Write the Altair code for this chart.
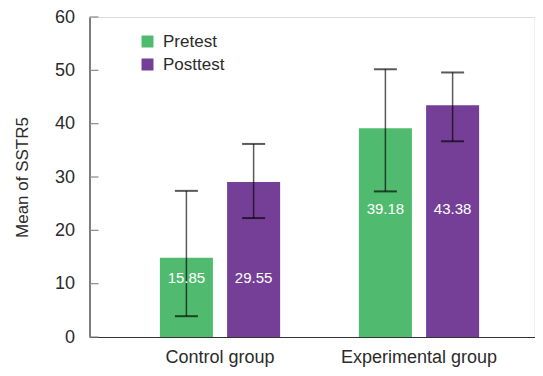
import altair as alt
import pandas as pd

groups = ["Control group", "Control group", "Experimental group", "Experimental group"]
tests = ["Pretest", "Posttest", "Pretest", "Posttest"]
bar_means = [14.86, 29.07, 39.16, 43.46]
value_labels = ["15.85", "29.55", "39.18", "43.38"]
err_low = [3.9, 22.3, 27.3, 36.7]
err_high = [27.4, 36.2, 50.2, 49.6]
label_y = [11.1, 11.1, 24.0, 24.0]
y_ticks = [0, 10, 20, 30, 40, 50, 60]

df = pd.DataFrame({
    "group": groups, "test": tests, "mean": bar_means, "label": value_labels,
    "low": err_low, "high": err_high, "label_y": label_y,
})
ticks_df = pd.DataFrame({"v": y_ticks})

FONT = "Liberation Sans"
GREEN = "#50BB6E"
PURPLE = "#753F97"
W, H = 445, 320

xscale = alt.Scale(paddingInner=0, paddingOuter=0.1181, align=0.6596)
xoff_scale = alt.Scale(domain=["Pretest", "Posttest"], paddingInner=0.211, paddingOuter=0.586)
yscale = alt.Scale(domain=[0, 60], nice=False)
gsort = ["Control group", "Experimental group"]

x_enc = alt.X("group:N", scale=xscale, sort=gsort,
              axis=alt.Axis(title=None, labelAngle=0, ticks=False, labelPadding=11,
                            labelFontSize=18, labelFont=FONT, labelColor="#2b2b2b",
                            domainColor="#333333", domainWidth=1.2))
xo_enc = alt.XOffset("test:N", scale=xoff_scale, sort=["Pretest", "Posttest"])

bars = alt.Chart(df).mark_bar().encode(
    x=x_enc,
    xOffset=xo_enc,
    y=alt.Y("mean:Q", scale=yscale,
            axis=alt.Axis(title="Mean of SSTR5", values=y_ticks, grid=False, ticks=False,
                          labelPadding=15, labelFontSize=18, labelFont=FONT,
                          labelColor="#2b2b2b", domainColor="#333333", domainWidth=1.2,
                          titleFontSize=17, titleFont=FONT, titleFontWeight="normal",
                          titleColor="#2b2b2b", titleX=-67, titleY=H / 2,
                          titleAngle=-90, titleAlign="center", titleBaseline="middle")),
    color=alt.Color("test:N", scale=alt.Scale(domain=["Pretest", "Posttest"], range=[GREEN, PURPLE]),
                    legend=alt.Legend(title=None, orient="none", legendX=49.5, legendY=16,
                                      symbolType="square", symbolSize=144, symbolStrokeWidth=0,
                                      symbolOpacity=1, labelFontSize=17, labelFont=FONT,
                                      labelColor="#2b2b2b", labelOffset=7, rowPadding=5)),
)

rules = alt.Chart(df).mark_rule(color="black", opacity=0.65, strokeWidth=1.5).encode(
    x=alt.X("group:N", scale=xscale, sort=gsort),
    xOffset=xo_enc,
    y=alt.Y("low:Q", scale=yscale),
    y2="high:Q",
)
cap_lo = alt.Chart(df).mark_tick(color="black", opacity=0.65, thickness=2, size=23).encode(
    x=alt.X("group:N", scale=xscale, sort=gsort),
    xOffset=xo_enc,
    y=alt.Y("low:Q", scale=yscale),
)
cap_hi = alt.Chart(df).mark_tick(color="black", opacity=0.65, thickness=2, size=23).encode(
    x=alt.X("group:N", scale=xscale, sort=gsort),
    xOffset=xo_enc,
    y=alt.Y("high:Q", scale=yscale),
)
labels = alt.Chart(df).mark_text(color="white", fontSize=15, font=FONT, baseline="middle").encode(
    x=alt.X("group:N", scale=xscale, sort=gsort),
    xOffset=xo_enc,
    y=alt.Y("label_y:Q", scale=yscale),
    text="label:N",
)
yticks = alt.Chart(ticks_df).mark_rule(color="#8a8a8a", strokeWidth=1.2).encode(
    x=alt.value(0), x2=alt.value(9),
    y=alt.Y("v:Q", scale=yscale),
)

chart = alt.layer(bars, rules, cap_lo, cap_hi, labels, yticks).properties(
    width=W, height=H,
    autosize=alt.AutoSizeParams(type="none"),
    padding={"left": 81.5, "top": 9, "right": 0, "bottom": 31},
).configure_view(stroke=None).configure(background="white")

chart.save("out.html", embed_options={"renderer": "svg", "actions": False})
